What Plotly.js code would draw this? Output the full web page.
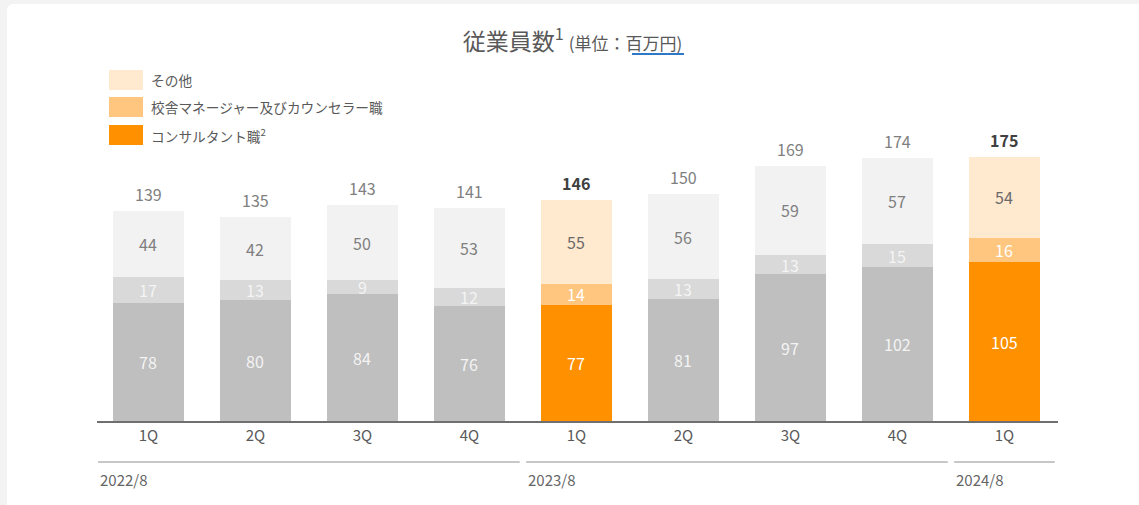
<!DOCTYPE html>
<html>
<head>
<meta charset="utf-8">
<script src="https://cdn.plot.ly/plotly-3.0.1.min.js"></script>
<style>
  html, body { margin: 0; padding: 0; background: #f3f3f3; width: 1139px; height: 505px; overflow: hidden; }
  #card { position: absolute; left: 7px; top: 4px; width: 1140px; height: 510px; background: #ffffff; border-radius: 6px; }
  #chart { position: absolute; left: 0; top: 0; width: 1139px; height: 505px; }
</style>
</head>
<body>
<div id="card"></div>
<div id="chart"></div>
<script>
// ---- data ----
const quarters   = ['1Q', '2Q', '3Q', '4Q', '1Q', '2Q', '3Q', '4Q', '1Q'];
const consultant = [78, 80, 84, 76, 77, 81, 97, 102, 105];
const manager    = [17, 13, 9, 12, 14, 13, 13, 15, 16];
const other      = [44, 42, 50, 53, 55, 56, 59, 57, 54];
const totals     = [139, 135, 143, 141, 146, 150, 169, 174, 175];
const highlighted = [false, false, false, false, true, false, false, false, true];
const fiscalYears = ['2022/8', '2023/8', '2024/8'];
const yearFirstQ  = [0, 4, 8];
const yearLastQ   = [3, 7, 8];
const seriesNames = ['その他', '校舎マネージャー及びカウンセラー職', 'コンサルタント職<sup>2</sup>'];

// ---- styling ----
const FONT = '"Noto Sans CJK JP", "Noto Sans", sans-serif';
const grayCols   = { other: '#f2f2f2', manager: '#d9d9d9', consultant: '#bfbfbf' };
const orangeCols = { other: '#ffe9cf', manager: '#ffc680', consultant: '#ff9100' };

const xs = quarters.map((_, i) => i);
const pick = (key) => highlighted.map(h => h ? orangeCols[key] : grayCols[key]);

const L = 97, R = 1139 - 1058, T = 130, B = 505 - 421;
const W = 1139 - L - R, H = 505 - T - B;
const pxX = (x) => (x - L) / W;
const pxY = (y) => (505 - B - y) / H;

function barTrace(vals, key, name) {
  return {
    type: 'bar', x: xs, y: vals, name: name,
    marker: { color: pick(key), line: { width: 0 } },
    hoverinfo: 'skip', showlegend: false
  };
}

const data = [
  barTrace(consultant, 'consultant', seriesNames[2]),
  barTrace(manager, 'manager', seriesNames[1]),
  barTrace(other, 'other', seriesNames[0])
];

const annotations = [];
// segment labels
xs.forEach(i => {
  const c = consultant[i], m = manager[i], o = other[i];
  const h = highlighted[i];
  annotations.push({ x: i, y: c / 2, text: String(c), showarrow: false, xref: 'x', yref: 'y',
    font: { family: FONT, size: 16, color: h ? '#ffffff' : '#f4f4f4' } });
  annotations.push({ x: i, y: c + m / 2, text: String(m), showarrow: false, xref: 'x', yref: 'y',
    font: { family: FONT, size: 16, color: h ? '#ffffff' : '#f4f4f4' } });
  annotations.push({ x: i, y: c + m + o / 2, text: String(o), showarrow: false, xref: 'x', yref: 'y',
    font: { family: FONT, size: 16, color: h ? '#6a6a6a' : '#7f7f7f' } });
  annotations.push({ x: i, y: totals[i], text: h ? '<b>' + totals[i] + '</b>' : String(totals[i]),
    showarrow: false, xref: 'x', yref: 'y', yanchor: 'bottom', yshift: 3,
    font: { family: FONT, size: 16, color: h ? '#404040' : '#808080' } });
});

const shapes = [];
// fiscal year group lines and labels
fiscalYears.forEach((fy, k) => {
  const x0 = yearFirstQ[k] - 0.5 + 0.03, x1 = yearLastQ[k] + 0.5 - 0.03;
  shapes.push({ type: 'line', xref: 'x', yref: 'paper', x0: x0, x1: x1, y0: pxY(462), y1: pxY(462),
    line: { color: '#8f8f8f', width: 1 } });
  annotations.push({ x: x0, y: pxY(479), xref: 'x', yref: 'paper', xanchor: 'left', yanchor: 'middle',
    text: fy, showarrow: false, font: { family: FONT, size: 15, color: '#666666' } });
});

// legend (manual, large swatches)
const legendCols = [orangeCols.other, orangeCols.manager, orangeCols.consultant];
const legendTop = [70, 97, 125];
legendCols.forEach((col, k) => {
  shapes.push({ type: 'rect', xref: 'paper', yref: 'paper', x0: pxX(109), x1: pxX(143),
    y0: pxY(legendTop[k]), y1: pxY(legendTop[k] + 20), fillcolor: col, line: { width: 0 } });
  annotations.push({ xref: 'paper', yref: 'paper', x: pxX(149), y: pxY(legendTop[k] + 10),
    xanchor: 'left', yanchor: 'middle', showarrow: false, text: seriesNames[k],
    font: { family: FONT, size: 13.7, color: '#595959' } });
});

// title underline
shapes.push({ type: 'line', xref: 'paper', yref: 'paper', x0: pxX(632), x1: pxX(684),
  y0: pxY(54), y1: pxY(54), line: { color: '#2f78c8', width: 2 } });

const layout = {
  width: 1139, height: 505,
  margin: { l: L, r: R, t: T, b: B, pad: 0 },
  paper_bgcolor: 'rgba(0,0,0,0)', plot_bgcolor: 'rgba(0,0,0,0)',
  barmode: 'stack', bargap: 0.33,
  showlegend: false,
  title: {
    text: '従業員数<sup>1</sup> <span style="font-size:17px">(単位：百万円)</span>',
    font: { family: FONT, size: 23, color: '#595959' },
    x: 0.5026, xref: 'container', xanchor: 'center', y: 1 - 42 / 505, yref: 'container', yanchor: 'middle'
  },
  xaxis: {
    range: [-0.48, 8.5], tickmode: 'array', tickvals: xs, ticktext: quarters,
    showline: true, linecolor: '#6f6f6f', linewidth: 1.5, showgrid: false, zeroline: false,
    ticks: '', tickfont: { family: FONT, size: 15, color: '#595959' }, fixedrange: true
  },
  yaxis: {
    range: [0, H / 1.511], showticklabels: false, showgrid: false, zeroline: false, showline: false,
    fixedrange: true
  },
  annotations: annotations, shapes: shapes,
  font: { family: FONT }
};

Plotly.newPlot('chart', data, layout, { displayModeBar: false, staticPlot: true });
</script>
</body>
</html>
